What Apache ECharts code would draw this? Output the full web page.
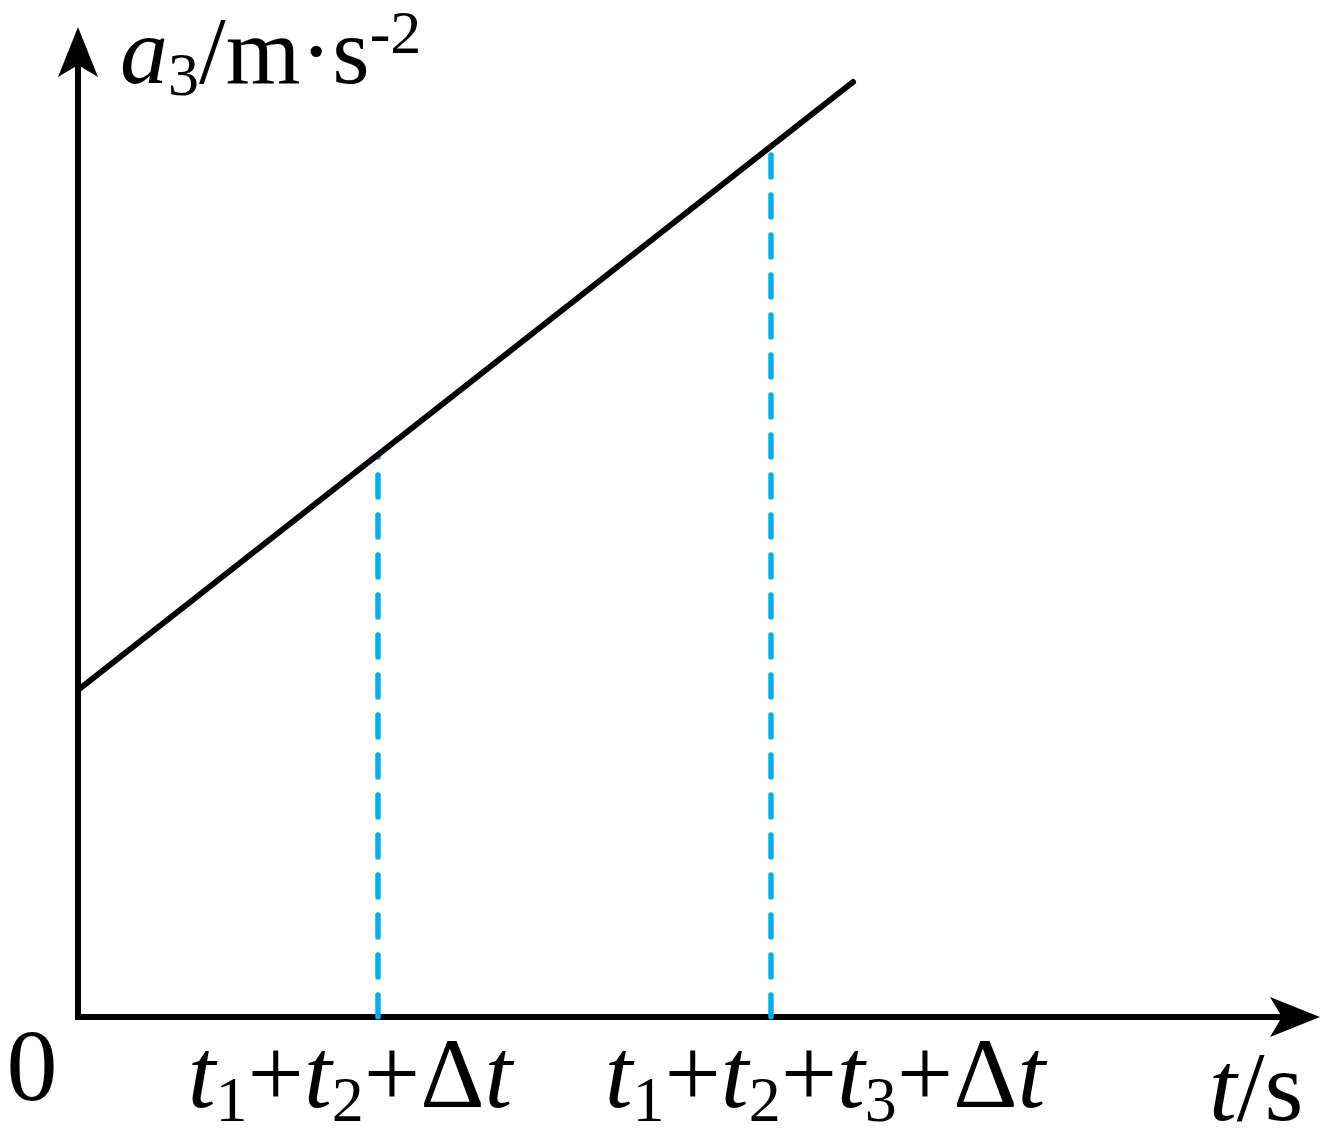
<!DOCTYPE html>
<html>
<head>
<meta charset="utf-8">
<script src="https://cdn.jsdelivr.net/npm/echarts@6/dist/echarts.min.js"></script>
<style>
html,body{margin:0;padding:0;background:#fff;}
#chart{width:1329px;height:1133px;}
</style>
</head>
<body>
<div id="chart"></div>
<script>
// ---- data (x in arbitrary time units, y in arbitrary acceleration units) ----
var lineT = [0, 7.75];
var lineA = [3.27, 9.35];
var markT = [3.0, 6.93];          // t1+t2+Δt , t1+t2+t3+Δt
var markA = [5.62, 8.69];         // heights where the dashed guides meet the line
var tickValues = [0, 3.0, 6.93];
var tickLabels = ['0', 't1+t2+Δt', 't1+t2+t3+Δt'];
var xMax = 12.17, yMax = 9.65;

var FF = '"Liberation Serif","Times New Roman",serif';
var FS = 100, SS = 64;

function nearestIdx(v) {
  var best = 0, d = Infinity;
  tickValues.forEach(function (tv, i) {
    var dd = Math.abs(tv - v);
    if (dd < d) { d = dd; best = i; }
  });
  return best;
}
// turn "t1+t2+Δt" into rich text: italic t, subscript digits, upright + and Δ
function richLabel(idx) {
  var s = tickLabels[idx];
  if (idx === 0) return '{z|' + s + '}';
  var out = '';
  var chars = Array.from(s);
  chars.forEach(function (c, k) {
    var style;
    if (c === 't') {
      style = 't';
      if (idx === 1 && k === chars.length - 1) style = 'tR';
      if (idx === 2 && k === 0) style = 'tL';
    } else if (/[0-9]/.test(c)) style = 's';
    else style = 'n';
    out += '{' + style + '|' + c + '}';
  });
  return out;
}

var richX = {
  z: { fontFamily: FF, fontSize: 102, lineHeight: 94, color: '#000', padding: [0, 92, 0, 0] },
  t: { fontFamily: FF, fontSize: FS, fontStyle: 'italic', lineHeight: 110, color: '#000' },
  tR: { fontFamily: FF, fontSize: FS, fontStyle: 'italic', lineHeight: 110, color: '#000', padding: [0, 56, 0, 0] },
  tL: { fontFamily: FF, fontSize: FS, fontStyle: 'italic', lineHeight: 110, color: '#000', padding: [0, 0, 0, 108] },
  n: { fontFamily: FF, fontSize: FS, lineHeight: 110, color: '#000' },
  s: { fontFamily: FF, fontSize: SS, lineHeight: 44, verticalAlign: 'bottom', color: '#000' }
};

var chart = echarts.init(document.getElementById('chart'));

var series = [{
  type: 'line',
  data: lineT.map(function (t, i) { return [t, lineA[i]]; }),
  symbol: 'none',
  silent: true,
  z: 3,
  lineStyle: { color: '#000', width: 6, cap: 'round' }
}];
markT.forEach(function (t, i) {
  series.push({
    type: 'line',
    data: [[t, 0], [t, markA[i]]],
    symbol: 'none',
    silent: true,
    z: 2,
    lineStyle: { color: '#00b0f0', width: 5.5, type: [22, 18], cap: 'round' }
  });
});

var arrow = 'path://M0,0 L20,50 L0,38 L-20,50 Z';
var gridBox = { left: 78, right: 34, top: 52, bottom: 116, containLabel: false, outerBoundsMode: 'none' };

chart.setOption({
  animation: false,
  backgroundColor: '#fff',
  grid: [gridBox, Object.assign({}, gridBox)],
  xAxis: [{
    gridIndex: 0,
    type: 'value', min: 0, max: xMax,
    splitLine: { show: false },
    axisTick: { show: false },
    axisLine: { show: true, symbol: ['none', arrow], symbolSize: [40, 50],
      lineStyle: { color: '#000', width: 6, cap: 'square' } },
    axisLabel: {
      customValues: tickValues.slice(0, 2),
      margin: 9,
      hideOverlap: false,
      formatter: function (v) { return richLabel(nearestIdx(v)); },
      rich: richX
    },
    name: '{t|t}{n|/s}',
    nameLocation: 'end',
    nameGap: -86,
    nameMoveOverlap: false,
    nameTextStyle: {
      align: 'left', verticalAlign: 'top', padding: [22, 0, 0, 0],
      rich: {
        t: { fontFamily: FF, fontSize: FS, fontStyle: 'italic', lineHeight: 110, color: '#000' },
        n: { fontFamily: FF, fontSize: FS, lineHeight: 110, color: '#000' }
      }
    }
  }, {
    gridIndex: 1,
    type: 'value', min: 0, max: xMax,
    splitLine: { show: false },
    axisTick: { show: false },
    axisLine: { show: false },
    axisLabel: {
      customValues: tickValues.slice(2),
      margin: 9,
      formatter: function (v) { return richLabel(nearestIdx(v)); },
      rich: richX
    }
  }],
  yAxis: [{
    gridIndex: 0,
    type: 'value', min: 0, max: yMax,
    splitLine: { show: false },
    axisTick: { show: false },
    axisLabel: { show: false },
    axisLine: { show: true, symbol: ['none', arrow], symbolSize: [40, 50],
      lineStyle: { color: '#000', width: 6, cap: 'square' } },
    name: '{a|a}{s|3}{n|/m·s}{p|-2}',
    nameLocation: 'end',
    nameGap: -6,
    nameMoveOverlap: false,
    nameTextStyle: {
      align: 'left', verticalAlign: 'middle', padding: [0, 0, 0, 42],
      rich: {
        a: { fontFamily: FF, fontSize: 96, fontStyle: 'italic', lineHeight: 104, color: '#000' },
        n: { fontFamily: FF, fontSize: 96, lineHeight: 104, color: '#000' },
        s: { fontFamily: FF, fontSize: 62, lineHeight: 40, verticalAlign: 'bottom', color: '#000' },
        p: { fontFamily: FF, fontSize: 62, lineHeight: 64, verticalAlign: 'top', color: '#000' }
      }
    }
  }, {
    gridIndex: 1,
    type: 'value', min: 0, max: yMax,
    show: false
  }],
  series: series
});
</script>
</body>
</html>
